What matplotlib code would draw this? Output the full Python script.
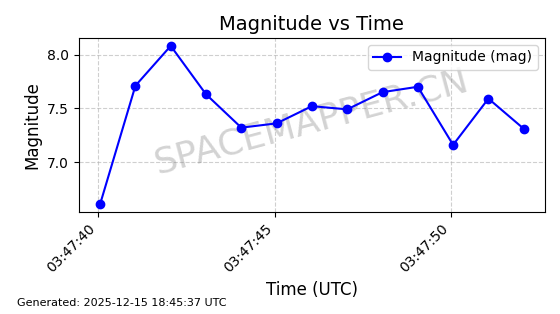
import matplotlib
matplotlib.use("Agg")
import matplotlib.pyplot as plt
import matplotlib.dates as mdates
from datetime import datetime, timedelta

start = datetime(2025, 12, 15, 3, 47, 40, 60000)
offsets_s = [0, 1, 2, 3, 4, 5, 6, 7, 8, 9, 10, 11, 12]
magnitudes = [6.61, 7.71, 8.08, 7.63, 7.32, 7.36, 7.52, 7.49, 7.65, 7.70, 7.16, 7.59, 7.31]
times = [start + timedelta(seconds=s) for s in offsets_s]

fig, ax = plt.subplots(figsize=(5.6, 3.14), dpi=100)
ax.plot(times, magnitudes, "o-", color="blue", label="Magnitude (mag)", markersize=6, zorder=3)

ax.set_title("Magnitude vs Time", fontsize=14)
ax.set_xlabel("Time (UTC)", fontsize=12)
ax.set_ylabel("Magnitude", fontsize=12)
ax.grid(True, linestyle="--", alpha=0.6)
ax.legend(loc="upper right")

ax.xaxis.set_major_locator(mdates.SecondLocator(bysecond=range(0, 60, 5)))
ax.xaxis.set_major_formatter(mdates.DateFormatter("%H:%M:%S"))
plt.setp(ax.get_xticklabels(), rotation=45, ha="right")

# watermark
ax.text(0.5, 0.52, "SPACEMAPPER.CN", transform=ax.transAxes, fontsize=26,
        color="gray", alpha=0.35, rotation=15, ha="center", va="center", zorder=2)

fig.text(0.03, 0.025, "Generated: 2025-12-15 18:45:37 UTC", fontsize=8)

fig.subplots_adjust(left=0.141, right=0.973, top=0.879, bottom=0.325)
fig.savefig("out.png", dpi=100)
